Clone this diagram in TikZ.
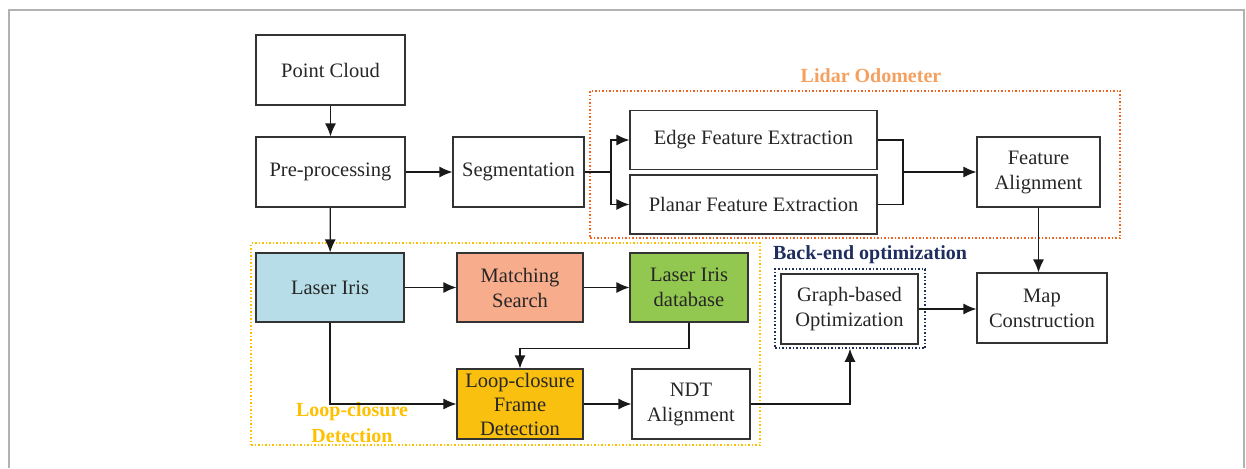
\documentclass[tikz,border=0pt]{standalone}
\usepackage{fontspec}
\setmainfont{Liberation Serif}
\usepackage{tikz}
\usetikzlibrary{positioning,shapes,arrows.meta,calc}

\definecolor{irisblue}{RGB}{183,222,232}
\definecolor{matchred}{RGB}{247,172,139}
\definecolor{dbgreen}{RGB}{146,200,80}
\definecolor{loopgold}{RGB}{250,192,16}
\definecolor{lidarorange}{RGB}{240,100,30}
\definecolor{lidartext}{RGB}{245,160,95}
\definecolor{loopyellow}{RGB}{255,192,0}
\definecolor{backnavy}{RGB}{31,45,95}

\begin{document}
\begin{tikzpicture}[x=1pt,y=-1pt]
\tikzset{
    stage/.style={rectangle, draw=black!80, line width=1.1pt, inner sep=0pt, align=center, font=\fontsize{20.5}{25}\selectfont, text=black!85},
    group/.style={rectangle, dotted, line width=1.5pt, inner sep=0pt},
    title/.style={font=\bfseries\fontsize{20}{26}\selectfont, align=center},
    arr/.style={line width=1.3pt, draw=black!90, -{Latex[length=13pt,width=11pt]}},
    link/.style={line width=1.3pt, draw=black!90}
}
\useasboundingbox (0,0) rectangle (1246,468);
\draw[gray!60, line width=2pt] (9,468) -- (9,10) -- (1244,10) -- (1244,468);

\node[group, draw=lidarorange, minimum width=530pt, minimum height=147pt] (lidar) at (855,164.5) {};
\node[group, draw=loopyellow, minimum width=509pt, minimum height=202pt] (loopbox) at (505.5,344) {};
\node[group, draw=backnavy, minimum width=150pt, minimum height=79pt] (backend) at (850,308.5) {};

\node[title, text=lidartext] (lidarlabel) at (871,76) {Lidar Odometer};
\node[title, text=loopyellow] (looplabel) at (352,423) {Loop-closure\\Detection};
\node[title, text=backnavy] (backlabel) at (870,255) {Back-end optimization};

\node[stage, minimum width=149pt, minimum height=70pt] (cloud) at (330.5,70) {Point Cloud};
\node[stage, minimum width=149pt, minimum height=70pt] (pre) at (330.5,172) {Pre-processing};
\node[stage, minimum width=131pt, minimum height=70pt] (seg) at (518.5,172) {Segmentation};
\node[stage, minimum width=247pt, minimum height=59pt] (edge) at (753.5,140) {Edge Feature Extraction};
\node[stage, minimum width=247pt, minimum height=59pt] (planar) at (753.5,204.5) {Planar Feature Extraction};
\node[stage, minimum width=123pt, minimum height=70pt] (falign) at (1038.5,172) {Feature\\Alignment};

\node[stage, fill=irisblue, minimum width=148pt, minimum height=69pt] (iris) at (330,287.5) {Laser Iris};
\node[stage, fill=matchred, minimum width=126pt, minimum height=69pt] (match) at (520,287.5) {Matching\\Search};
\node[stage, fill=dbgreen, minimum width=118pt, minimum height=69pt] (db) at (689,287.5) {Laser Iris\\database};
\node[stage, fill=loopgold, minimum width=126pt, minimum height=70pt, font=\fontsize{20.5}{24}\selectfont] (loopfd) at (520,404) {Loop-closure\\Frame\\Detection};
\node[stage, minimum width=118pt, minimum height=70pt] (ndt) at (691,404) {NDT\\Alignment};

\node[stage, minimum width=137pt, minimum height=70pt] (graph) at (849.5,309) {Graph-based\\Optimization};
\node[stage, minimum width=130pt, minimum height=70pt] (mapc) at (1042,308) {Map\\Construction};

\coordinate (split) at (611,172);
\coordinate (join) at (903,172);

\draw[arr] (cloud) -- (pre);
\draw[arr] (pre) -- (seg);
\draw[arr] (pre) -- (iris);
\draw[link] (seg.east) -- (split);
\draw[arr] (split) |- (edge.west);
\draw[arr] (split) |- (planar.west);
\draw[link] (edge.east) -| (join);
\draw[link] (planar.east) -| (join);
\draw[arr] (join) -- (falign.west);
\draw[arr] (falign.south) -- (falign.south |- mapc.north);
\draw[arr] (iris) -- (match);
\draw[arr] (match) -- (db);
\draw[arr] (db.south) -- ++(0,26) -| (loopfd.north);
\draw[arr] (iris.south) |- (loopfd.west);
\draw[arr] (loopfd) -- (ndt);
\draw[arr] (ndt.east) -| (backend.south);
\draw[arr] (graph.east) -- (graph.east -| mapc.west);
\end{tikzpicture}
\end{document}
